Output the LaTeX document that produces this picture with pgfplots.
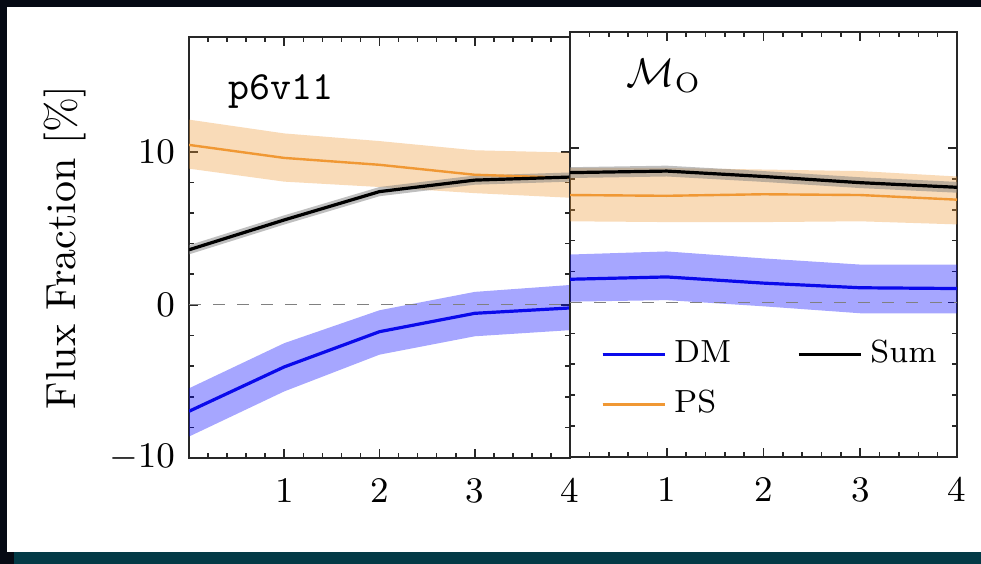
\documentclass[border=0pt]{standalone}
\usepackage{pgfplots}
\pgfplotsset{compat=1.18}
\definecolor{bgdark}{RGB}{6,10,20}
\definecolor{bgteal}{RGB}{3,58,70}
\definecolor{dmblue}{RGB}{10,10,235}
\definecolor{psorange}{RGB}{240,152,52}
\definecolor{axisgray}{RGB}{40,40,40}
\pgfplotsset{
  panel/.style={
    scale only axis, anchor=south west,
    xmin=0, xmax=4, ymin=-10, ymax=17.5,
    xtick={0,1,2,3,4}, xticklabels={,1,2,3,4},
    ytick={-10,0,10},
    minor x tick num=4, minor y tick num=4,
    tick align=inside, major tick length=2.2pt, minor tick length=1.3pt,
    tick style={axisgray, line width=0.4pt},
    axis line style={axisgray, line width=0.5pt},
    tick label style={font=\fontsize{9}{10}\selectfont},
    xticklabel style={yshift=-1.5pt},
  },
  band/.style={draw=none, fill=#1, fill opacity=0.35, forget plot},
}
\begin{document}
\begin{tikzpicture}
\fill[bgdark] (0pt,0pt) rectangle (245.25pt,141pt);
\fill[white] (1.75pt,3pt) rectangle (245.25pt,139.25pt);
\fill[bgteal] (3.5pt,0pt) rectangle (245.25pt,3pt);

\begin{axis}[panel, at={(47.25pt,26.5pt)}, width=95.25pt, height=105.25pt,
  ylabel={Flux Fraction [\%]},
  ylabel style={at={(axis description cs:-0.325,0.5)}, anchor=center, font=\fontsize{10.5}{12}\selectfont}]
  % PS band
  \addplot[band=psorange] coordinates {(0,12.1) (1,11.2) (2,10.7) (3,10.1) (4,9.95) (4,7.0) (3,7.3) (2,7.7) (1,8.05) (0,8.9)};
  % DM band
  \addplot[band=blue] coordinates {(0,-5.45) (1,-2.5) (2,-0.35) (3,0.85) (4,1.3) (4,-1.65) (3,-2.05) (2,-3.25) (1,-5.65) (0,-8.6)};
  % Sum band
  \addplot[draw=none, fill=gray, fill opacity=0.5, forget plot] coordinates {(0,3.9) (1,5.85) (2,7.7) (3,8.45) (4,8.65) (4,8.05) (3,7.85) (2,7.1) (1,5.25) (0,3.3)};
  \addplot[gray, dashed, line width=0.3pt, forget plot] coordinates {(0,0) (4,0)};
  \addplot[psorange, line width=0.6pt, forget plot] coordinates {(0,10.45) (1,9.6) (2,9.15) (3,8.5) (4,8.3)};
  \addplot[black, line width=0.8pt, forget plot] coordinates {(0,3.6) (1,5.55) (2,7.4) (3,8.15) (4,8.35)};
  \addplot[dmblue, line width=0.8pt, forget plot] coordinates {(0,-6.95) (1,-4.05) (2,-1.75) (3,-0.55) (4,-0.2)};
  \node[anchor=base west, inner sep=0pt, font=\ttfamily\fontsize{10}{12}\selectfont] at (axis cs:0.41,13.4) {p6v11};
\end{axis}

\begin{axis}[panel, at={(142.5pt,26.75pt)}, width=96.75pt, height=106.25pt,
  yticklabels={},
  legend columns=2,
  legend cell align=left,
  legend image code/.code={\draw[#1] (0pt,0pt) -- (14pt,0pt); \path (0pt,0pt) -- (15.5pt,0pt);},
  legend style={draw=none, fill=none, at={(rel axis cs:0.047,0.314)}, anchor=north west,
    font=\fontsize{8}{9.5}\selectfont, row sep=1.25pt,
    /tikz/every even column/.append style={column sep=14.5pt}}]
  \addplot[band=psorange] coordinates {(0,8.7) (1,8.7) (2,8.6) (3,8.5) (4,8.15) (4,5.05) (3,5.25) (2,5.2) (1,5.2) (0,5.25)};
  \addplot[band=blue] coordinates {(0,3.1) (1,3.3) (2,2.85) (3,2.45) (4,2.45) (4,-0.7) (3,-0.7) (2,-0.25) (1,0.15) (0,0.05)};
  \addplot[draw=none, fill=gray, fill opacity=0.5, forget plot] coordinates {(0,8.75) (1,8.85) (2,8.5) (3,8.1) (4,7.8) (4,7.1) (3,7.4) (2,7.8) (1,8.15) (0,8.05)};
  \addplot[gray, dashed, line width=0.3pt, forget plot] coordinates {(0,0) (4,0)};
  \addplot[psorange, line width=0.6pt, forget plot] coordinates {(0,6.95) (1,6.9) (2,7.0) (3,6.95) (4,6.65)};
  \addplot[black, line width=0.8pt, forget plot] coordinates {(0,8.4) (1,8.5) (2,8.15) (3,7.75) (4,7.45)};
  \addplot[dmblue, line width=0.8pt, forget plot] coordinates {(0,1.5) (1,1.65) (2,1.25) (3,0.95) (4,0.9)};
  \addlegendimage{dmblue, line width=0.8pt}
  \addlegendentry{DM}
  \addlegendimage{black, line width=0.8pt}
  \addlegendentry{Sum}
  \addlegendimage{psorange, line width=0.8pt}
  \addlegendentry{PS}
  \node[anchor=base west, font=\fontsize{10}{12}\selectfont] at (axis cs:0.44,14.0) {$\mathcal{M}_{\mathrm{O}}$};
\end{axis}
\end{tikzpicture}
\end{document}
